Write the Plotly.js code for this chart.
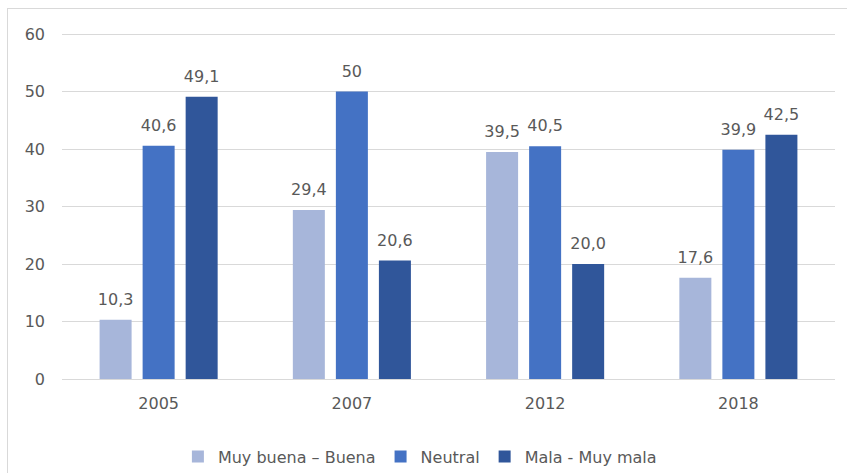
<!DOCTYPE html>
<html>
<head>
<meta charset="utf-8">
<script src="https://cdn.plot.ly/plotly-3.0.1.min.js"></script>
<style>
  html, body { margin: 0; padding: 0; background: #ffffff; overflow: hidden; }
  #frame { position: absolute; left: 7px; top: 8px; width: 850px; height: 480px; border: 1px solid #d9d9d9; box-sizing: border-box; }
  #chart { position: absolute; left: 0; top: 0; width: 847px; height: 473px; }
</style>
</head>
<body>
<div id="frame"></div>
<div id="chart"></div>
<script>
const categories = ['2005', '2007', '2012', '2018'];
const seriesNames = ['Muy buena \u2013 Buena', 'Neutral', 'Mala - Muy mala'];
const muyBuenaBuena = [10.3, 29.4, 39.5, 17.6];
const neutral = [40.6, 50, 40.5, 39.9];
const malaMuyMala = [49.1, 20.6, 20.0, 42.5];
const labelsMuyBuena = ['10,3', '29,4', '39,5', '17,6'];
const labelsNeutral = ['40,6', '50', '40,5', '39,9'];
const labelsMala = ['49,1', '20,6', '20,0', '42,5'];
const yTicks = [0, 10, 20, 30, 40, 50, 60];

const colors = ['#a7b6da', '#4472c4', '#30569a'];
const values = [muyBuenaBuena, neutral, malaMuyMala];
const labels = [labelsMuyBuena, labelsNeutral, labelsMala];
const fontFamily = 'DejaVu Sans, sans-serif';
const textColor = '#595959';

const traces = [];
values.forEach((v, i) => {
  traces.push({
    type: 'bar',
    x: categories,
    y: v,
    name: seriesNames[i],
    marker: { color: colors[i] },
    hoverinfo: 'skip'
  });
});
values.forEach((v, i) => {
  traces.push({
    type: 'scatter',
    mode: 'markers+text',
    x: categories,
    y: v,
    text: labels[i],
    textposition: 'top center',
    textfont: { family: fontFamily, size: 16, color: textColor },
    marker: { size: 16, color: 'rgba(0,0,0,0)' },
    showlegend: false,
    cliponaxis: false,
    hoverinfo: 'skip'
  });
});

const layout = {
  width: 847,
  height: 473,
  margin: { l: 62, r: 12, t: 33, b: 94, autoexpand: false },
  paper_bgcolor: 'rgba(0,0,0,0)',
  plot_bgcolor: 'rgba(0,0,0,0)',
  barmode: 'group',
  bargap: 0.332,
  bargroupgap: 0.256,
  scattermode: 'group',
  scattergap: 0.332,
  font: { family: fontFamily, size: 16, color: textColor },
  xaxis: {
    type: 'category',
    showline: true,
    linecolor: '#d9d9d9',
    linewidth: 1,
    showgrid: false,
    ticks: '',
    ticklabelstandoff: 10,
    automargin: false,
    tickfont: { family: fontFamily, size: 16, color: textColor }
  },
  yaxis: {
    range: [0, 60.2],
    tickvals: yTicks,
    ticktext: yTicks.map(String),
    showgrid: true,
    gridcolor: '#d9d9d9',
    gridwidth: 1,
    zeroline: false,
    showline: false,
    ticks: '',
    ticklabelstandoff: 16,
    automargin: false,
    tickfont: { family: fontFamily, size: 16, color: textColor }
  },
  legend: {
    orientation: 'h',
    x: 0.463,
    xanchor: 'center',
    y: -0.175,
    yanchor: 'top',
    itemwidth: 30,
    font: { family: fontFamily, size: 16, color: textColor },
    bgcolor: 'rgba(0,0,0,0)'
  },
  showlegend: true
};

Plotly.newPlot('chart', traces, layout, { displayModeBar: false, staticPlot: true });
</script>
</body>
</html>
